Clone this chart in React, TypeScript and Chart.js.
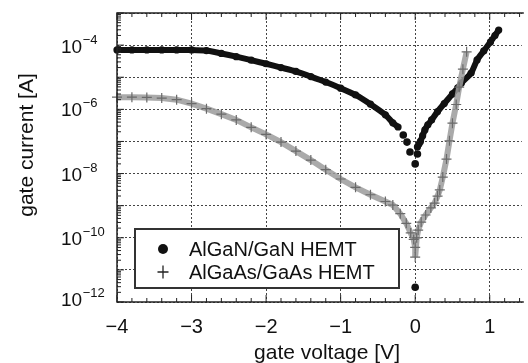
import React, { useEffect, useRef } from "react";
import { Chart, registerables } from "chart.js";

Chart.register(...registerables);

// AlGaN/GaN HEMT — gate voltage [V] and log10(gate current [A])
const ganLeftV = [-4.0, -3.8, -3.6, -3.4, -3.2, -3.0, -2.8, -2.6, -2.4, -2.2, -2.0, -1.8, -1.6, -1.4, -1.2, -1.0, -0.8, -0.6, -0.4, -0.3, -0.23];
const ganLeftExp = [-4.15, -4.15, -4.15, -4.15, -4.15, -4.15, -4.17, -4.26, -4.36, -4.47, -4.58, -4.7, -4.82, -4.98, -5.15, -5.34, -5.55, -5.84, -6.17, -6.42, -6.55];
const ganDipV = [-0.16, -0.11, -0.07, 0.0, 0.03, 0.0];
const ganDipExp = [-6.8, -7.02, -7.33, -7.7, -7.39, -11.54];
const ganRightV = [0.03, 0.05, 0.07, 0.1, 0.13, 0.17, 0.22, 0.3, 0.39, 0.5, 0.57, 0.62, 0.75, 0.83, 0.92, 1.01, 1.07, 1.12];
const ganRightExp = [-7.17, -7.08, -7.0, -6.82, -6.64, -6.48, -6.33, -6.07, -5.82, -5.52, -5.33, -5.18, -4.87, -4.46, -4.18, -3.9, -3.7, -3.53];

// AlGaAs/GaAs HEMT
const gaasV = [-4.0, -3.8, -3.6, -3.4, -3.2, -3.0, -2.8, -2.6, -2.4, -2.2, -2.0, -1.8, -1.6, -1.4, -1.2, -1.0, -0.8, -0.6, -0.4, -0.3, -0.2, -0.12, -0.06, -0.02, 0.0, 0.0,
  0.02, 0.04, 0.08, 0.14, 0.21, 0.26, 0.3, 0.33, 0.37, 0.42, 0.46, 0.5, 0.55, 0.59, 0.64, 0.69];
const gaasExp = [-5.62, -5.62, -5.63, -5.65, -5.7, -5.82, -5.98, -6.15, -6.33, -6.56, -6.78, -7.02, -7.3, -7.58, -7.88, -8.17, -8.43, -8.66, -8.87, -8.98, -9.25, -9.55, -9.85, -10.05, -10.3, -10.6,
  -10.0, -9.76, -9.51, -9.29, -9.07, -8.92, -8.7, -8.51, -8.11, -7.55, -6.98, -6.43, -5.85, -5.31, -4.75, -4.21];

const xTickValues = [-4, -3, -2, -1, 0, 1];
const xTickLabels = ["\u22124", "\u22123", "\u22122", "\u22121", "0", "1"];
const yDecades = [-12, -11, -10, -9, -8, -7, -6, -5, -4, -3];
const yLabelExps = [-12, -10, -8, -6, -4];
const legendLabels = ["AlGaN/GaN HEMT", "AlGaAs/GaAs HEMT"];
const xTitle = "gate voltage [V]";
const yTitle = "gate current [A]";

const FONT = '"Liberation Sans", Arial, sans-serif';

const toPts = (vs: number[], es: number[]) => vs.map((v, i) => ({ x: v, y: Math.pow(10, es[i]) }));

const decoPlugin = {
  id: "deco",
  afterDraw(chart: any) {
    const { ctx, chartArea: a, scales } = chart;
    const x = scales.x;
    const y = scales.y;
    ctx.save();
    // frame
    ctx.strokeStyle = "#222";
    ctx.lineWidth = 1.5;
    ctx.beginPath();
    ctx.moveTo(a.right + 2, a.top);
    ctx.lineTo(a.left, a.top);
    ctx.lineTo(a.left, a.bottom);
    ctx.lineTo(a.right + 2, a.bottom);
    ctx.stroke();

    // x ticks (inward, top and bottom)
    ctx.lineWidth = 1;
    for (let i = 0; i <= 27; i++) {
      const v = -4 + i * 0.2;
      const px = x.getPixelForValue(v);
      if (px > a.right + 1) continue;
      const major = Math.abs(v - Math.round(v)) < 1e-6;
      const len = major ? 7 : 4;
      ctx.beginPath();
      ctx.moveTo(px, a.bottom);
      ctx.lineTo(px, a.bottom - len);
      ctx.moveTo(px, a.top);
      ctx.lineTo(px, a.top + len);
      ctx.stroke();
    }
    // y ticks (inward, left)
    for (const e of yDecades) {
      const py = y.getPixelForValue(Math.pow(10, e));
      ctx.beginPath();
      ctx.moveTo(a.left, py);
      ctx.lineTo(a.left + 7, py);
      ctx.stroke();
      if (e < -3) {
        for (let k = 2; k <= 9; k++) {
          const pm = y.getPixelForValue(k * Math.pow(10, e));
          ctx.beginPath();
          ctx.moveTo(a.left, pm);
          ctx.lineTo(a.left + 4, pm);
          ctx.stroke();
        }
      }
    }

    // x tick labels
    ctx.fillStyle = "#111";
    ctx.font = `20px ${FONT}`;
    ctx.textAlign = "center";
    ctx.textBaseline = "alphabetic";
    xTickValues.forEach((v, i) => {
      ctx.fillText(xTickLabels[i], x.getPixelForValue(v), 333);
    });

    // y tick labels with superscripts
    yLabelExps.forEach((e) => {
      const py = y.getPixelForValue(Math.pow(10, e));
      const off = e === -12 ? -3 : e === -4 ? 1 : 0;
      ctx.textAlign = "left";
      ctx.font = `19px ${FONT}`;
      const base = py + off + 7;
      ctx.fillText("10", 61, base);
      const w = ctx.measureText("10").width;
      ctx.font = `13px ${FONT}`;
      ctx.fillText("\u2212" + Math.abs(e), 61 + w + 0.5, base - 9);
    });

    // axis titles
    ctx.font = `21px ${FONT}`;
    ctx.textAlign = "center";
    ctx.textBaseline = "alphabetic";
    ctx.fillText(xTitle, 327, 359);
    ctx.save();
    ctx.translate(27, 145);
    ctx.rotate(-Math.PI / 2);
    ctx.textBaseline = "middle";
    ctx.fillText(yTitle, 0, 0);
    ctx.restore();

    // legend
    const lx = 135, ly = 229, lw = 264, lh = 59;
    ctx.fillStyle = "#fff";
    ctx.fillRect(lx, ly, lw, lh);
    ctx.strokeStyle = "#333";
    ctx.lineWidth = 2;
    ctx.strokeRect(lx, ly, lw, lh);
    ctx.fillStyle = "#111";
    ctx.beginPath();
    ctx.arc(163, 249, 5, 0, Math.PI * 2);
    ctx.fill();
    ctx.strokeStyle = "#222";
    ctx.lineWidth = 1.3;
    ctx.beginPath();
    ctx.moveTo(157.5, 272);
    ctx.lineTo(168.5, 272);
    ctx.moveTo(163, 265.5);
    ctx.lineTo(163, 278.5);
    ctx.stroke();
    ctx.font = `20px ${FONT}`;
    ctx.textAlign = "left";
    ctx.fillText(legendLabels[0], 189, 256);
    ctx.fillText(legendLabels[1], 189, 279);
    ctx.restore();
  },
};

export default function App() {
  const ref = useRef<HTMLCanvasElement | null>(null);
  useEffect(() => {
    if (!ref.current) return;
    const ganStyle = {
      borderColor: "#111",
      backgroundColor: "#111",
      pointBackgroundColor: "#111",
      pointBorderColor: "#111",
      borderWidth: 6,
      pointBorderWidth: 0,
      pointRadius: 3.6,
      pointStyle: "circle",
      tension: 0.2,
      clip: false,
    };
    const chart = new Chart(ref.current, {
      type: "scatter",
      data: {
        datasets: [
          {
            label: "AlGaAs/GaAs HEMT",
            data: toPts(gaasV, gaasExp),
            showLine: true,
            borderColor: "rgba(155,155,155,0.85)",
            borderWidth: 6,
            pointStyle: "cross",
            pointRadius: 5,
            pointBorderColor: "#6a6a6a",
            pointBorderWidth: 1.2,
            tension: 0,
            clip: false,
          } as any,
          { label: "AlGaN/GaN HEMT", data: toPts(ganLeftV, ganLeftExp), showLine: true, ...ganStyle } as any,
          { label: "AlGaN/GaN dip", data: toPts(ganDipV, ganDipExp), showLine: false, ...ganStyle, pointRadius: 3.8 } as any,
          { label: "AlGaN/GaN fwd", data: toPts(ganRightV, ganRightExp), showLine: true, ...ganStyle } as any,
        ],
      },
      options: {
        animation: false,
        responsive: false,
        maintainAspectRatio: false,
        layout: { padding: { top: 13, right: 0, left: 0, bottom: 0 } },
        plugins: { legend: { display: false }, tooltip: { enabled: false } },
        scales: {
          x: {
            type: "linear",
            min: -4,
            max: 1.43,
            ticks: { display: false },
            grid: { color: "#444", lineWidth: 1, drawTicks: false },
            border: { display: false, dash: [2, 2] },
            afterBuildTicks: (s: any) => {
              s.ticks = xTickValues.map((v) => ({ value: v }));
            },
            afterFit: (s: any) => {
              s.height = 61;
            },
          },
          y: {
            type: "logarithmic",
            min: 1e-12,
            max: 1e-3,
            ticks: { display: false },
            grid: { color: "#444", lineWidth: 1, drawTicks: false },
            border: { display: false, dash: [2, 2] },
            afterBuildTicks: (s: any) => {
              s.ticks = yDecades.map((e) => ({ value: Math.pow(10, e) }));
            },
            afterFit: (s: any) => {
              s.width = 117;
            },
          },
        },
      } as any,
      plugins: [decoPlugin],
    });
    return () => chart.destroy();
  }, []);
  return (
    <div style={{ position: "absolute", left: 0, top: 0, width: 528, height: 363, background: "#fff" }}>
      <canvas ref={ref} width={528} height={363} style={{ display: "block" }} />
    </div>
  );
}
